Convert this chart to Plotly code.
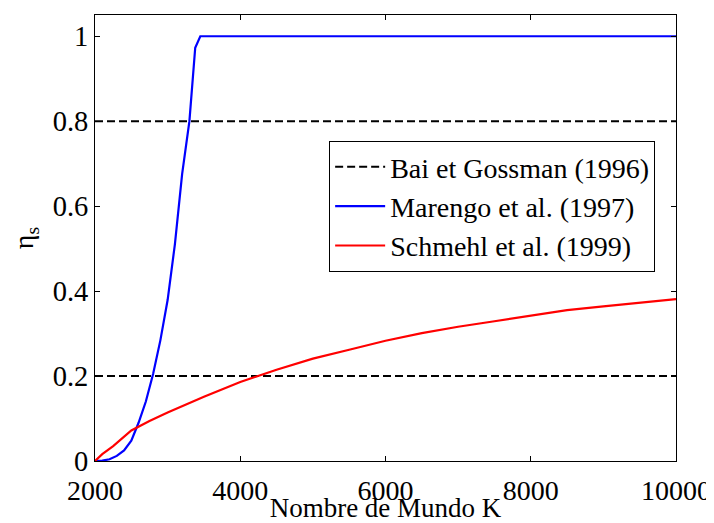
import plotly.graph_objects as go

# Data
bai_x = [2000, 10000, None, 2000, 10000]
bai_y = [0.8, 0.8, None, 0.2, 0.2]

marengo_k = [2000, 2100, 2200, 2300, 2400, 2500, 2600, 2700, 2800, 2900, 3000,
             3100, 3200, 3300, 3380, 3450, 10000]
marengo_eta = [0.0, 0.001, 0.004, 0.012, 0.025, 0.048, 0.09, 0.14, 0.205, 0.284, 0.379,
               0.51, 0.676, 0.80, 0.973, 1.0, 1.0]

schmehl_k = [2000, 2100, 2250, 2500, 2750, 3000, 3500, 4000, 4500, 5000, 5500, 6000,
             6500, 7000, 7500, 8000, 8500, 9000, 9500, 10000]
schmehl_eta = [0.0, 0.016, 0.035, 0.072, 0.094, 0.114, 0.151, 0.186, 0.215, 0.241, 0.262,
               0.283, 0.301, 0.316, 0.329, 0.342, 0.355, 0.364, 0.373, 0.381]

x_ticks = [2000, 4000, 6000, 8000, 10000]
x_ticktext = ["2000", "4000", "6000", "8000", "10000"]
y_ticks = [0, 0.2, 0.4, 0.6, 0.8, 1]
y_ticktext = ["0", "0.2", "0.4", "0.6", "0.8", "1"]

FONT = "Liberation Serif"

fig = go.Figure()
fig.add_trace(go.Scatter(x=bai_x, y=bai_y, mode="lines", name="Bai et Gossman (1996)",
                         line=dict(color="black", width=2, dash="8px,4px")))
fig.add_trace(go.Scatter(x=marengo_k, y=marengo_eta, mode="lines", name="Marengo et al. (1997)",
                         line=dict(color="#0000ff", width=2.2)))
fig.add_trace(go.Scatter(x=schmehl_k, y=schmehl_eta, mode="lines", name="Schmehl et al. (1999)",
                         line=dict(color="#ff0000", width=2.2)))

axis_common = dict(showgrid=False, zeroline=False, showline=True, linecolor="black",
                   linewidth=1, mirror="ticks", ticks="inside", ticklen=5, tickcolor="black",
                   automargin=False)

fig.update_layout(
    width=706, height=515,
    margin=dict(l=87, r=38, t=7, b=62),
    paper_bgcolor="white", plot_bgcolor="white",
    font=dict(family=FONT, size=27, color="black"),
    xaxis=dict(range=[2000, 10000], tickvals=x_ticks, ticktext=x_ticktext,
               tickfont=dict(family=FONT, size=28, color="black"),
               ticklabelstandoff=4,
               title=dict(text="Nombre de Mundo K", font=dict(family=FONT, size=27), standoff=0),
               **axis_common),
    yaxis=dict(range=[0, 1.05], tickvals=y_ticks, ticktext=y_ticktext,
               tickfont=dict(family=FONT, size=28.5, color="black"),
               title=dict(text="η<sub>s</sub>", font=dict(family=FONT, size=28), standoff=16),
               **axis_common),
    legend=dict(x=0.403, y=0.7175, xanchor="left", yanchor="top",
                bordercolor="black", borderwidth=1, bgcolor="white",
                itemwidth=50,
                font=dict(family=FONT, size=28), tracegroupgap=0),
    showlegend=True,
)

fig.write_html("out.html")
